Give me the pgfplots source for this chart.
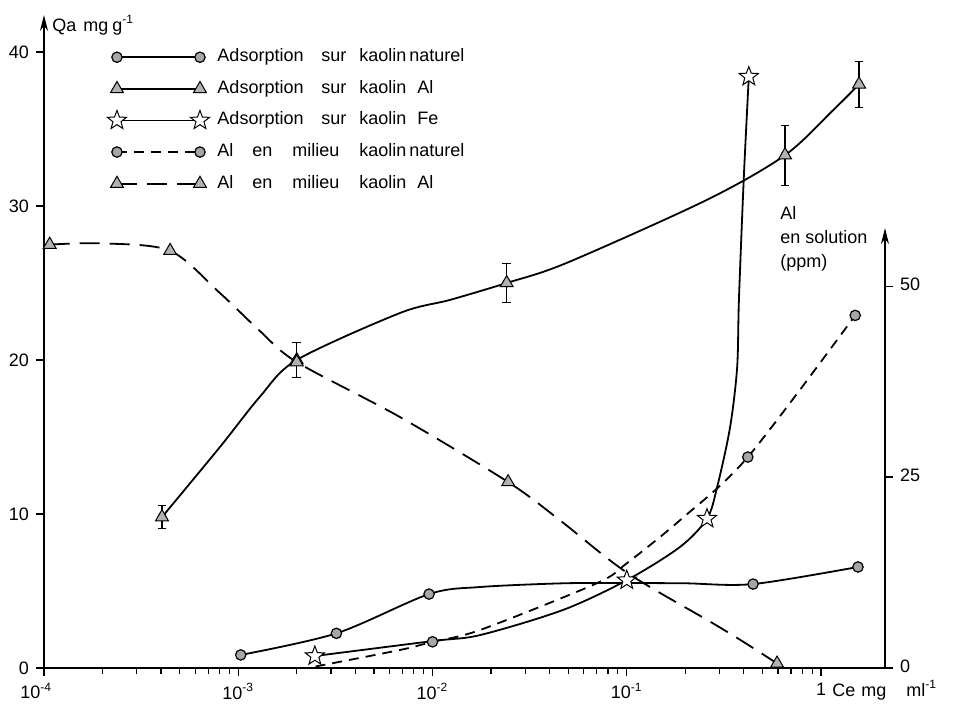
\documentclass[border=0pt]{standalone}
\usepackage{pgfplots}
\pgfplotsset{compat=1.18}
\usepackage{fontspec}
\setmainfont{Liberation Sans}
\usetikzlibrary{arrows.meta}

\pgfdeclareplotmark{ostar}{%
  \pgfpathmoveto{\pgfpointpolar{90}{\pgfplotmarksize}}%
  \pgfpathlineto{\pgfpointpolar{126}{0.42\pgfplotmarksize}}%
  \pgfpathlineto{\pgfpointpolar{162}{\pgfplotmarksize}}%
  \pgfpathlineto{\pgfpointpolar{198}{0.42\pgfplotmarksize}}%
  \pgfpathlineto{\pgfpointpolar{234}{\pgfplotmarksize}}%
  \pgfpathlineto{\pgfpointpolar{270}{0.42\pgfplotmarksize}}%
  \pgfpathlineto{\pgfpointpolar{306}{\pgfplotmarksize}}%
  \pgfpathlineto{\pgfpointpolar{342}{0.42\pgfplotmarksize}}%
  \pgfpathlineto{\pgfpointpolar{18}{\pgfplotmarksize}}%
  \pgfpathlineto{\pgfpointpolar{54}{0.42\pgfplotmarksize}}%
  \pgfpathclose
  \pgfusepathqfillstroke
}

\tikzset{
  circ/.style={mark=*, mark size=2.6pt, mark options={solid, fill=gray!70, draw=black, line width=0.6pt}},
  tri/.style={mark=triangle*, mark size=3.7pt, mark options={solid, fill=gray!60, draw=black, line width=0.5pt}},
  ostarm/.style={mark=ostar, mark size=5pt, mark options={solid, fill=white, draw=black, line width=0.5pt}},
  shortdash/.style={dash pattern=on 5pt off 3.5pt},
  longdash/.style={dash pattern=on 10pt off 5pt},
}
\newcommand{\lf}{\fontsize{9}{10}\selectfont}

\begin{document}
\begin{tikzpicture}
\begin{axis}[
  scale only axis, width=420.5pt, height=326.5pt,
  xmode=log, xmin=1e-4, xmax=2.135, ymin=0, ymax=42.4,
  at={(0,0)}, anchor=south west, clip=false,
  tick align=outside, major tick length=4pt,
  tick style={black, line width=0.6pt},
  /pgf/number format/assume math mode=true,
  tick label style={font=\lf},
  minor tick num=0,
  axis x line*=bottom, axis y line*=left,
  x axis line style={-, line width=0.7pt},
  y axis line style={-{Stealth[length=8pt,width=4pt]}, line width=0.7pt},
  xtick={1e-4,1e-3,1e-2,1e-1,1},
  xticklabels={\llap{10\textsuperscript{-4}\hspace{-4pt}},10\textsuperscript{-3},10\textsuperscript{-2},10\textsuperscript{-1},1},
  ytick={0,10,20,30,40},
  legend image code/.code={\draw[mark repeat=2,mark phase=1,#1] plot coordinates {(0pt,0pt) (20.75pt,0pt) (41.5pt,0pt)};},
  legend cell align=left,
  legend style={at={(rel axis cs:0.075,0.952)}, anchor=north west, draw=none, fill=none,
    font=\lf, row sep=5.3pt, column sep=3pt, inner sep=0pt,
    nodes={inner sep=1pt, text height=6.5pt, text depth=2pt}},
]
% error bars of Adsorption sur kaolin Al
\addplot[forget plot, only marks, mark=none,
  error bars/.cd, y dir=both, y explicit,
  error bar style={line width=0.6pt, black, solid},
  error mark options={rotate=90, mark size=2.2pt, line width=0.6pt, black, solid}]
  coordinates {(4.05e-4,9.8) +- (0,0.75) (2.0e-3,20) +- (0,1.15) (0.0241,25) +- (0,1.25) (0.653,33.3) +- (0,1.95) (1.57,37.9) +- (0,1.5)};

% Adsorption sur kaolin naturel
\addplot[forget plot, solid, black, line width=0.9pt, smooth, circ, mark indices={1,2,3,8,9}]
  coordinates {(1.03e-3,0.85) (3.2e-3,2.25) (9.6e-3,4.8) (0.0176,5.26) (0.047,5.5) (0.1,5.52) (0.2,5.5) (0.447,5.45) (1.55,6.56)};

% Adsorption sur kaolin Al
\addplot[forget plot, solid, black, line width=0.9pt, smooth, tri, mark indices={1,4,7,10,12}]
  coordinates {(4.05e-4,9.8) (8.05e-4,14.35) (1.29e-3,17.6) (2.0e-3,20) (6.8e-3,23.05) (0.0123,23.9) (0.0241,25) (0.049,26.3) (0.259,30.4) (0.653,33.3) (1.15,36.2) (1.57,37.9)};

% Adsorption sur kaolin Fe
\addplot[forget plot, solid, black, line width=0.9pt, smooth, ostarm, mark indices={1,5,7,13}]
  coordinates {(2.48e-3,0.78) (0.01,1.75) (0.0176,2.14) (0.047,3.77) (0.1,5.7) (0.188,7.86) (0.259,9.7) (0.292,11.75) (0.34,15.6) (0.37,19.5) (0.378,23.9) (0.40,31.7) (0.425,38.4)};

\addlegendimage{solid, black, line width=0.9pt, circ}
\addlegendentry{\lf\makebox[52pt][l]{Adsorption}\makebox[19pt][l]{sur}\makebox[25pt][l]{kaolin}naturel}
\addlegendimage{solid, black, line width=0.9pt, tri}
\addlegendentry{\lf\makebox[52pt][l]{Adsorption}\makebox[19pt][l]{sur}\makebox[29pt][l]{kaolin}Al}
\addlegendimage{solid, black, line width=0.9pt, ostarm}
\addlegendentry{\lf\makebox[52pt][l]{Adsorption}\makebox[19pt][l]{sur}\makebox[29pt][l]{kaolin}Fe}
\addlegendimage{shortdash, black, line width=0.9pt, circ}
\addlegendentry{\lf\makebox[17.5pt][l]{Al}\makebox[20pt][l]{en}\makebox[33.5pt][l]{milieu}\makebox[25pt][l]{kaolin}naturel}
\addlegendimage{longdash, black, line width=0.9pt, tri}
\addlegendentry{\lf\makebox[17.5pt][l]{Al}\makebox[20pt][l]{en}\makebox[33.5pt][l]{milieu}\makebox[29pt][l]{kaolin}Al}

\node[anchor=west, inner sep=0pt, xshift=4pt, font=\lf] at (axis cs:1e-4,41.75) {\makebox[15.5pt][l]{Qa}\makebox[14.5pt][l]{mg}g\textsuperscript{-1}};
\node[anchor=west, inner sep=0pt, font=\lf] at (axis cs:1.14,-1.45) {\makebox[14.5pt][l]{Ce}\makebox[22.5pt][l]{mg}ml\textsuperscript{-1}};
\end{axis}

\begin{axis}[
  scale only axis, width=420.5pt, height=326.5pt,
  xmode=log, xmin=1e-4, xmax=2.135, ymin=0, ymax=85.5,
  at={(0,0)}, anchor=south west, clip=false,
  tick align=outside, major tick length=4pt,
  tick style={black, line width=0.6pt},
  /pgf/number format/assume math mode=true,
  tick label style={font=\lf},
  minor tick num=0,
  axis x line=none, axis y line*=right,
  y axis line style={draw=none},
  ytick={0,25,50},
  yticklabel style={yshift=1pt},
]
% Al en milieu kaolin naturel (ppm)
\addplot[shortdash, black, line width=0.9pt, smooth, circ, mark indices={3,8,9}]
  coordinates {(2.5e-3,0.2) (6.8e-3,2.36) (0.01,3.43) (0.0176,4.98) (0.07,11.09) (0.1,13.71) (0.188,19.35) (0.42,27.62) (1.5,46.17)};
% Al en milieu kaolin Al (ppm)
\addplot[longdash, black, line width=0.9pt, smooth, tri, mark indices={1,3,6,8,13}]
  coordinates {(1.07e-4,55.44) (2.0e-4,55.6) (4.46e-4,54.63) (8.05e-4,49.09) (1.29e-3,44.15) (2.0e-3,40.06) (6.8e-3,32.86) (0.0245,24.35) (0.0453,19.35) (0.1,12.5) (0.278,5.85) (0.41,3.23) (0.594,0.6)};
\draw[line width=0.7pt, -{Stealth[length=8pt,width=4pt]}] (axis cs:2.135,0) -- (axis cs:2.135,57.6);
\node[anchor=north west, align=left, inner sep=0pt, font=\fontsize{9}{12}\selectfont] at (axis cs:0.615,60.5) {Al\\en solution\\(ppm)};
\end{axis}
\pgfresetboundingbox
\path[use as bounding box] (-22pt,-17.5pt) rectangle (458.5pt,334pt);
\end{tikzpicture}
\end{document}
